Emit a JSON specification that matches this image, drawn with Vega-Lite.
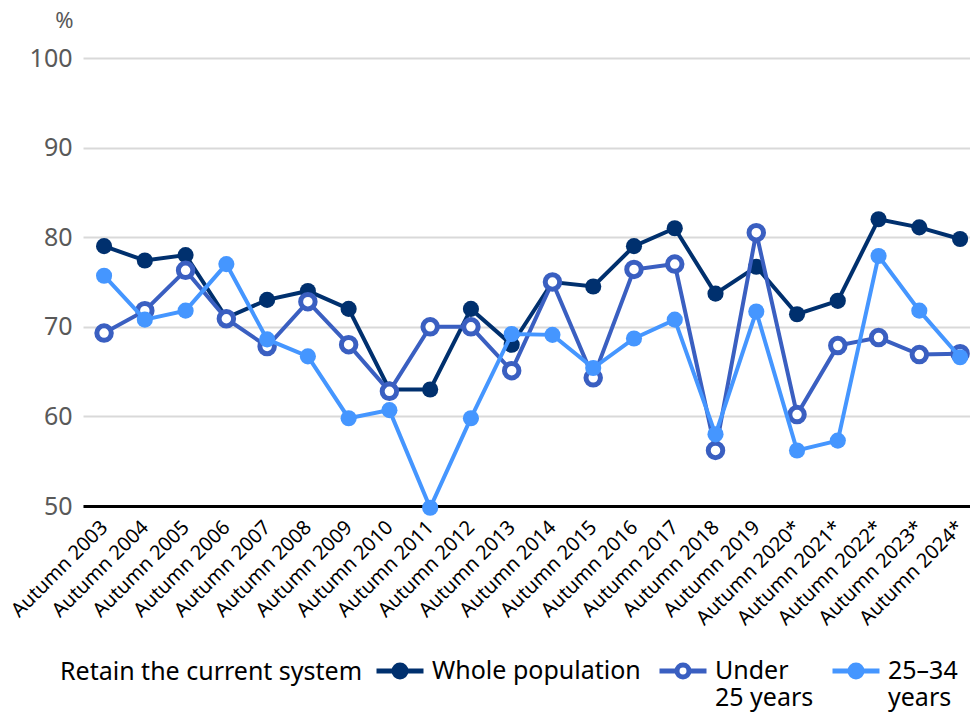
{
  "$schema": "https://vega.github.io/schema/vega-lite/v6.json",
  "autosize": {"type": "none"},
  "padding": {"left": 83, "top": 58, "right": 0, "bottom": 209},
  "width": 887,
  "height": 448,
  "background": "white",
  "config": {
    "font": "Noto Sans",
    "view": {"stroke": null}
  },
  "data": {
    "values": [
      {"year": "Autumn 2003", "series": "Whole population", "value": 79.0},
      {"year": "Autumn 2004", "series": "Whole population", "value": 77.4},
      {"year": "Autumn 2005", "series": "Whole population", "value": 78.0},
      {"year": "Autumn 2006", "series": "Whole population", "value": 71.0},
      {"year": "Autumn 2007", "series": "Whole population", "value": 73.0},
      {"year": "Autumn 2008", "series": "Whole population", "value": 74.0},
      {"year": "Autumn 2009", "series": "Whole population", "value": 72.0},
      {"year": "Autumn 2010", "series": "Whole population", "value": 63.0},
      {"year": "Autumn 2011", "series": "Whole population", "value": 63.0},
      {"year": "Autumn 2012", "series": "Whole population", "value": 72.0},
      {"year": "Autumn 2013", "series": "Whole population", "value": 68.0},
      {"year": "Autumn 2014", "series": "Whole population", "value": 75.0},
      {"year": "Autumn 2015", "series": "Whole population", "value": 74.5},
      {"year": "Autumn 2016", "series": "Whole population", "value": 79.0},
      {"year": "Autumn 2017", "series": "Whole population", "value": 81.0},
      {"year": "Autumn 2018", "series": "Whole population", "value": 73.7},
      {"year": "Autumn 2019", "series": "Whole population", "value": 76.7},
      {"year": "Autumn 2020*", "series": "Whole population", "value": 71.4},
      {"year": "Autumn 2021*", "series": "Whole population", "value": 72.9},
      {"year": "Autumn 2022*", "series": "Whole population", "value": 82.0},
      {"year": "Autumn 2023*", "series": "Whole population", "value": 81.1},
      {"year": "Autumn 2024*", "series": "Whole population", "value": 79.8},
      {"year": "Autumn 2003", "series": "Under 25 years", "value": 69.3},
      {"year": "Autumn 2004", "series": "Under 25 years", "value": 71.8},
      {"year": "Autumn 2005", "series": "Under 25 years", "value": 76.3},
      {"year": "Autumn 2006", "series": "Under 25 years", "value": 70.9},
      {"year": "Autumn 2007", "series": "Under 25 years", "value": 67.8},
      {"year": "Autumn 2008", "series": "Under 25 years", "value": 72.8},
      {"year": "Autumn 2009", "series": "Under 25 years", "value": 68.0},
      {"year": "Autumn 2010", "series": "Under 25 years", "value": 62.8},
      {"year": "Autumn 2011", "series": "Under 25 years", "value": 70.0},
      {"year": "Autumn 2012", "series": "Under 25 years", "value": 70.0},
      {"year": "Autumn 2013", "series": "Under 25 years", "value": 65.1},
      {"year": "Autumn 2014", "series": "Under 25 years", "value": 75.0},
      {"year": "Autumn 2015", "series": "Under 25 years", "value": 64.3},
      {"year": "Autumn 2016", "series": "Under 25 years", "value": 76.4},
      {"year": "Autumn 2017", "series": "Under 25 years", "value": 77.0},
      {"year": "Autumn 2018", "series": "Under 25 years", "value": 56.2},
      {"year": "Autumn 2019", "series": "Under 25 years", "value": 80.5},
      {"year": "Autumn 2020*", "series": "Under 25 years", "value": 60.2},
      {"year": "Autumn 2021*", "series": "Under 25 years", "value": 67.9},
      {"year": "Autumn 2022*", "series": "Under 25 years", "value": 68.8},
      {"year": "Autumn 2023*", "series": "Under 25 years", "value": 66.9},
      {"year": "Autumn 2024*", "series": "Under 25 years", "value": 67.0},
      {"year": "Autumn 2003", "series": "25–34 years", "value": 75.7},
      {"year": "Autumn 2004", "series": "25–34 years", "value": 70.8},
      {"year": "Autumn 2005", "series": "25–34 years", "value": 71.8},
      {"year": "Autumn 2006", "series": "25–34 years", "value": 77.0},
      {"year": "Autumn 2007", "series": "25–34 years", "value": 68.6},
      {"year": "Autumn 2008", "series": "25–34 years", "value": 66.7},
      {"year": "Autumn 2009", "series": "25–34 years", "value": 59.8},
      {"year": "Autumn 2010", "series": "25–34 years", "value": 60.7},
      {"year": "Autumn 2011", "series": "25–34 years", "value": 49.8},
      {"year": "Autumn 2012", "series": "25–34 years", "value": 59.8},
      {"year": "Autumn 2013", "series": "25–34 years", "value": 69.2},
      {"year": "Autumn 2014", "series": "25–34 years", "value": 69.1},
      {"year": "Autumn 2015", "series": "25–34 years", "value": 65.4},
      {"year": "Autumn 2016", "series": "25–34 years", "value": 68.7},
      {"year": "Autumn 2017", "series": "25–34 years", "value": 70.8},
      {"year": "Autumn 2018", "series": "25–34 years", "value": 58.0},
      {"year": "Autumn 2019", "series": "25–34 years", "value": 71.7},
      {"year": "Autumn 2020*", "series": "25–34 years", "value": 56.2},
      {"year": "Autumn 2021*", "series": "25–34 years", "value": 57.3},
      {"year": "Autumn 2022*", "series": "25–34 years", "value": 77.9},
      {"year": "Autumn 2023*", "series": "25–34 years", "value": 71.8},
      {"year": "Autumn 2024*", "series": "25–34 years", "value": 66.6}
    ]
  },
  "encoding": {
    "x": {
      "field": "year",
      "type": "ordinal",
      "sort": null,
      "scale": {"type": "point", "padding": 0.38, "align": 0.68},
      "axis": {
        "title": null,
        "labelAngle": -45,
        "labelAlign": "right",
        "labelBaseline": "middle",
        "labelFontSize": 20,
        "labelColor": "#000000",
        "labelPadding": 18,
        "ticks": false,
        "grid": false,
        "domain": true,
        "domainColor": "#000000",
        "domainWidth": 3,
        "labelOverlap": false
      }
    },
    "y": {
      "field": "value",
      "type": "quantitative",
      "scale": {"domain": [50, 100], "nice": false, "zero": false},
      "axis": {
        "title": "%",
        "titleAngle": 0,
        "titleX": -19,
        "titleY": -38,
        "titleAlign": "center",
        "titleBaseline": "middle",
        "titleFontSize": 22,
        "titleFontWeight": "normal",
        "titleColor": "#595959",
        "values": [50, 60, 70, 80, 90, 100],
        "labelFontSize": 25,
        "labelColor": "#595959",
        "labelPadding": 11,
        "ticks": false,
        "domain": false,
        "grid": true,
        "gridColor": "#d9d9d9",
        "gridWidth": 2
      }
    },
    "stroke": {
      "field": "series",
      "type": "nominal",
      "scale": {
        "domain": ["Whole population", "Under 25 years", "25–34 years"],
        "range": ["#00306e", "#3a5fc1", "#4596ff"]
      },
      "legend": {
        "orient": "none",
        "legendX": -23,
        "legendY": 587,
        "direction": "horizontal",
        "title": "Retain the current system",
        "titleOrient": "left",
        "titleAnchor": "start",
        "titleFontSize": 25,
        "titleFontWeight": "normal",
        "titleColor": "#000000",
        "titleBaseline": "top",
        "titleLimit": 500,
        "titlePadding": 11,
        "symbolType": "M-1,0L-0.26,0M0.26,0L1,0M0.255,0A0.255,0.255 0 1 1 -0.255,0A0.255,0.255 0 1 1 0.255,0Z",
        "symbolSize": 2209,
        "symbolStrokeWidth": 5,
        "labelFontSize": 25,
        "labelColor": "#000000",
        "labelOffset": 6,
        "labelBaseline": "middle",
        "labelExpr": "datum.label == 'Under 25 years' ? ['Under', '25 years'] : datum.label == '25–34 years' ? ['25–34', 'years'] : [datum.label, '']",
        "columnPadding": 8,
        "labelLimit": 400,
        "encode": {
          "title": {"update": {"dy": {"value": 15}}}
        }
      }
    }
  },
  "layer": [
    {"transform": [{"filter": "datum.series === 'Whole population'"}], "mark": {"type": "line", "strokeWidth": 4}},
    {
      "transform": [{"filter": "datum.series === 'Whole population'"}],
      "mark": {"type": "point", "shape": "circle", "filled": true, "size": 260, "strokeWidth": 0, "opacity": 1},
      "encoding": {"fill": {"field": "series", "type": "nominal", "scale": {"domain": ["Whole population", "Under 25 years", "25–34 years"], "range": ["#00306e", "#ffffff", "#4596ff"]}, "legend": {"title": "Retain the current system"}}}
    },
    {"transform": [{"filter": "datum.series === 'Under 25 years'"}], "mark": {"type": "line", "strokeWidth": 4}},
    {
      "transform": [{"filter": "datum.series === 'Under 25 years'"}],
      "mark": {"type": "point", "shape": "circle", "filled": true, "size": 210, "strokeWidth": 5, "opacity": 1},
      "encoding": {"fill": {"field": "series", "type": "nominal", "legend": {"title": "Retain the current system"}}}
    },
    {"transform": [{"filter": "datum.series === '25–34 years'"}], "mark": {"type": "line", "strokeWidth": 4}},
    {
      "transform": [{"filter": "datum.series === '25–34 years'"}],
      "mark": {"type": "point", "shape": "circle", "filled": true, "size": 260, "strokeWidth": 0, "opacity": 1},
      "encoding": {"fill": {"field": "series", "type": "nominal", "legend": {"title": "Retain the current system"}}}
    }
  ]
}
